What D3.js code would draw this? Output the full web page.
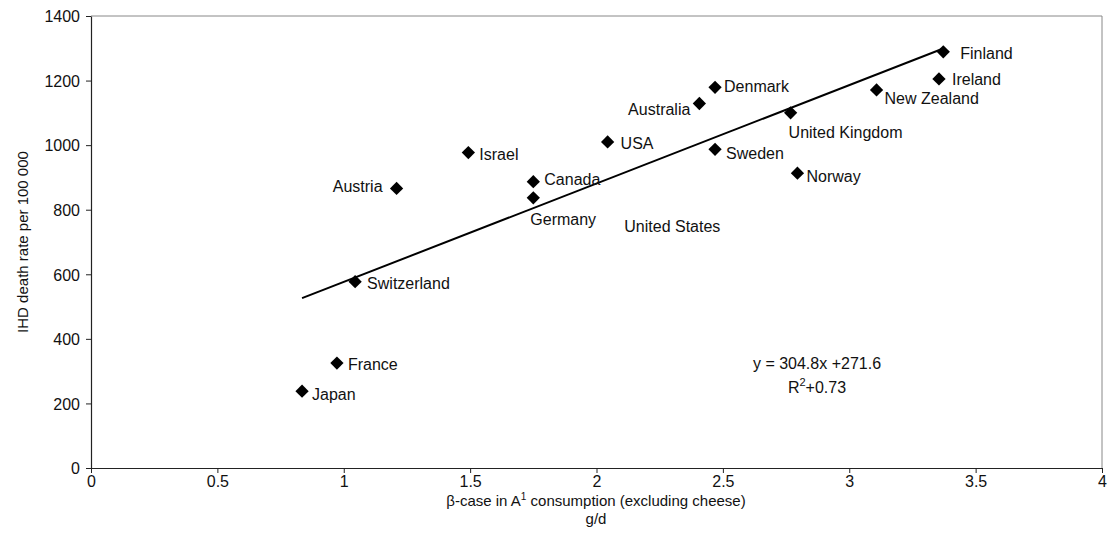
<!DOCTYPE html>
<html>
<head>
<meta charset="utf-8">
<script src="https://cdn.jsdelivr.net/npm/d3@7"></script>
<style>
  body { margin: 0; background: #fff; }
  text { font-family: "Liberation Sans", Arial, sans-serif; fill: #111; }
</style>
</head>
<body>
<div id="chart"></div>
<script>
// data
var countries = ["Japan", "France", "Switzerland", "Austria", "Israel", "Canada", "Germany", "USA",
                 "Australia", "Denmark", "Sweden", "United Kingdom", "Norway", "New Zealand", "Ireland", "Finland"];
var consumption = [0.835, 0.973, 1.045, 1.209, 1.493, 1.750, 1.750, 2.044,
                   2.407, 2.469, 2.469, 2.768, 2.795, 3.108, 3.355, 3.372];
var deathRate = [238, 325, 577, 866, 977, 887, 837, 1010,
                 1129, 1179, 987, 1100, 913, 1171, 1205, 1289];
var xTicks = [0, 0.5, 1, 1.5, 2, 2.5, 3, 3.5, 4];
var yTicks = [0, 200, 400, 600, 800, 1000, 1200, 1400];
var slope = 304.8, intercept = 271.6;
var strayLabel = {text: "United States", x: 2.11, y: 730}; // label without a marker in the original

// label offsets (px) from each marker, [dx, dy, anchor]
var labelPos = {
  "Japan": [10, 9, "start"], "France": [11, 7, "start"], "Switzerland": [12, 7, "start"],
  "Austria": [-14, 4, "end"], "Israel": [11, 7, "start"], "Canada": [11, 3, "start"],
  "Germany": [-3, 27, "start"], "USA": [13, 7, "start"], "Australia": [-9, 12, "end"],
  "Denmark": [9, 5, "start"], "Sweden": [11, 10, "start"], "United Kingdom": [-2, 25, "start"],
  "Norway": [9, 9, "start"], "New Zealand": [8, 14, "start"], "Ireland": [13, 6, "start"],
  "Finland": [17, 7, "start"]
};

var margin = {top: 16, right: 8, bottom: 83, left: 91},
    width = 1110 - margin.left - margin.right,
    height = 551 - margin.top - margin.bottom;

var svg = d3.select("#chart")
  .append("svg")
    .attr("width", width + margin.left + margin.right)
    .attr("height", height + margin.top + margin.bottom)
  .append("g")
    .attr("transform", "translate(" + margin.left + "," + margin.top + ")");

var x = d3.scaleLinear().domain([0, 4]).range([0, 1011]);
var y = d3.scaleLinear().domain([0, 1400]).range([452, 0]);

// frame top + right
svg.append("path")
  .attr("d", "M0,0H" + x(4) + "V" + y(0))
  .attr("fill", "none")
  .attr("stroke", "#888")
  .attr("stroke-width", 1);

var xAxis = svg.append("g")
  .attr("transform", "translate(0," + y(0) + ")")
  .call(d3.axisBottom(x).tickValues(xTicks).tickSize(5).tickSizeOuter(0).tickFormat(d3.format("")));
var yAxis = svg.append("g")
  .call(d3.axisLeft(y).tickValues(yTicks).tickSize(5).tickSizeOuter(0).tickFormat(d3.format("d")));

[xAxis, yAxis].forEach(function(a) {
  a.select(".domain").attr("stroke", "#222").attr("stroke-width", 1.2);
  a.selectAll(".tick line").attr("stroke", "#222");
  a.selectAll(".tick text").style("font-size", "16px")
    .style("font-family", "Liberation Sans, Arial, sans-serif").attr("fill", "#111");
});
xAxis.selectAll(".tick text").attr("dy", "0.71em");
yAxis.selectAll(".tick text").attr("x", -11).attr("dy", "0.36em");

// trend line
var xmin = d3.min(consumption), xmax = d3.max(consumption);
svg.append("line")
  .attr("x1", x(xmin)).attr("y1", y(slope * xmin + intercept))
  .attr("x2", x(xmax)).attr("y2", y(slope * xmax + intercept))
  .attr("stroke", "#000")
  .attr("stroke-width", 2);

// diamonds
var diamond = d3.symbol().type(d3.symbolSquare).size(88);
svg.selectAll(".pt")
  .data(countries)
  .enter().append("path")
    .attr("class", "pt")
    .attr("d", diamond)
    .attr("fill", "#000")
    .attr("transform", function(d, i) {
      return "translate(" + x(consumption[i]) + "," + y(deathRate[i]) + ") rotate(45)";
    });

// point labels
svg.selectAll(".lbl")
  .data(countries)
  .enter().append("text")
    .attr("class", "lbl")
    .attr("x", function(d, i) { return x(consumption[i]) + labelPos[d][0]; })
    .attr("y", function(d, i) { return y(deathRate[i]) + labelPos[d][1]; })
    .attr("text-anchor", function(d) { return labelPos[d][2]; })
    .style("font-size", "16px")
    .text(function(d) { return d; });

svg.append("text")
  .attr("x", x(strayLabel.x))
  .attr("y", y(strayLabel.y))
  .style("font-size", "16px")
  .text(strayLabel.text);

// equation
svg.append("text")
  .attr("x", 726).attr("y", 353)
  .attr("text-anchor", "middle")
  .style("font-size", "16px")
  .text("y = " + slope + "x +" + intercept);
var r2 = svg.append("text")
  .attr("x", 726).attr("y", 377)
  .attr("text-anchor", "middle")
  .style("font-size", "16px");
r2.append("tspan").text("R");
r2.append("tspan").attr("dy", -7).style("font-size", "11px").text("2");
r2.append("tspan").attr("dy", 7).text("+0.73");

// axis titles
var xt = svg.append("text")
  .attr("x", 505).attr("y", 490)
  .attr("text-anchor", "middle")
  .style("font-size", "15px");
xt.append("tspan").text("β-case in A");
xt.append("tspan").attr("dy", -6).style("font-size", "10px").text("1");
xt.append("tspan").attr("dy", 6).text(" consumption (excluding cheese)");
svg.append("text")
  .attr("x", 505).attr("y", 508)
  .attr("text-anchor", "middle")
  .style("font-size", "15px")
  .text("g/d");

svg.append("text")
  .attr("transform", "translate(" + (28 - margin.left) + "," + 226 + ") rotate(-90)")
  .attr("text-anchor", "middle")
  .style("font-size", "15px")
  .text("IHD death rate per 100 000");
</script>
</body>
</html>
